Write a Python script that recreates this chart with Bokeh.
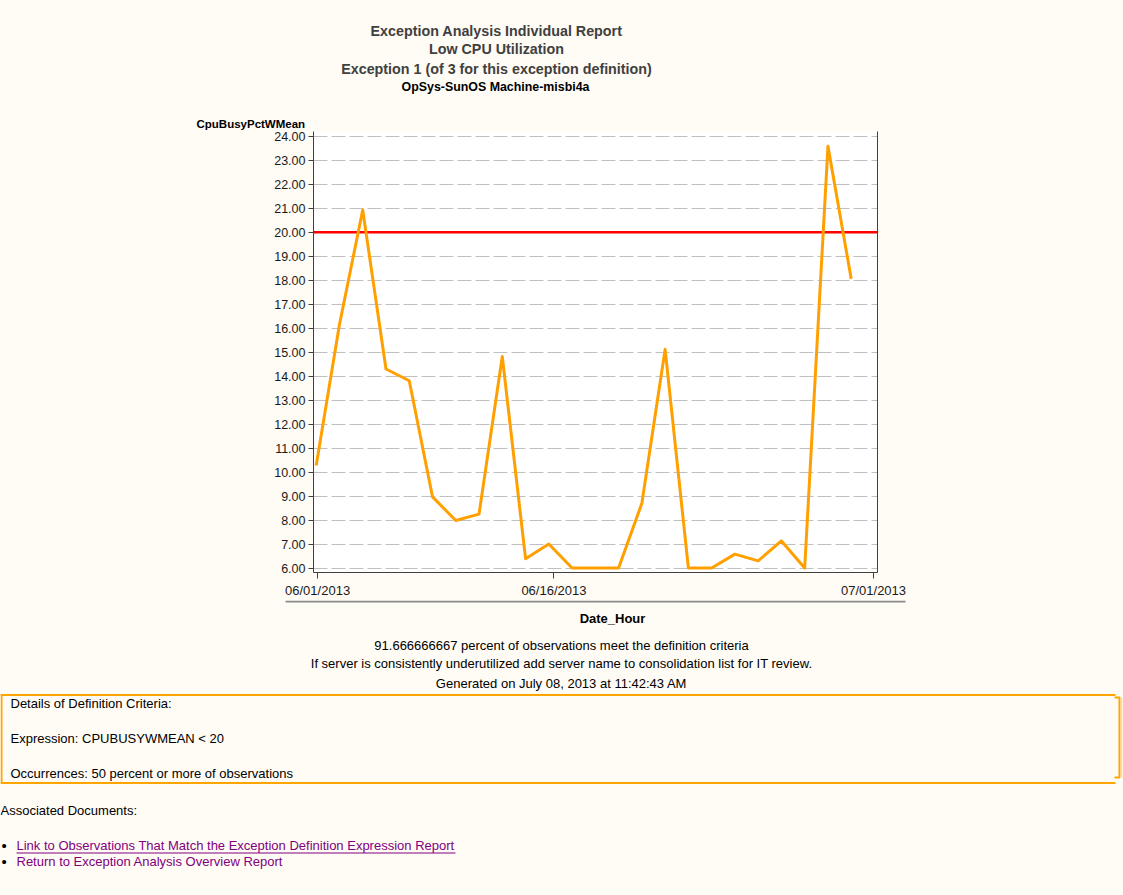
from bokeh.plotting import figure
from bokeh.layouts import column
from bokeh.models import Range1d, LinearAxis, FixedTicker, NumeralTickFormatter, Span
from bokeh.core.properties import value
from bokeh.embed import file_html
from bokeh.resources import INLINE

# ---------------- data ----------------
obs_index = list(range(24))
cpu_busy_pct = [10.28, 16.16, 20.93, 14.30, 13.81, 8.97, 7.98, 8.25, 14.82, 6.39,
                7.00, 6.00, 6.00, 6.00, 8.70, 15.12, 6.00, 6.00, 6.58, 6.30,
                7.13, 6.00, 23.59, 18.06]
threshold = 20
x_tick_positions = [0.06, 10.22, 23.96]
x_tick_labels = ["06/01/2013", "06/16/2013", "07/01/2013"]
y_ticks = list(range(6, 25))

title_lines = ["Exception Analysis Individual Report",
               "Low CPU Utilization",
               "Exception 1 (of 3 for this exception definition)"]
subtitle = "OpSys-SunOS Machine-misbi4a"
y_title = "CpuBusyPctWMean"
x_title = "Date_Hour"
footer_lines = ["91.666666667 percent of observations meet the definition criteria",
                "If server is consistently underutilized add server name to consolidation list for IT review.",
                "Generated on July 08, 2013 at 11:42:43 AM"]
criteria_lines = ["Details of Definition Criteria:",
                  "Expression: CPUBUSYWMEAN < 20",
                  "Occurrences: 50 percent or more of observations"]
assoc_title = "Associated Documents:"
links = ["Link to Observations That Match the Exception Definition Expression Report",
         "Return to Exception Analysis Overview Report"]

# ---------------- styling ----------------
W = 1123
BG = "#fffbf5"
FONT = "Liberation Sans"
ORANGE = "#ffa000"
H_HEAD, H_CHART = 131, 469
H_FOOT = 893 - H_HEAD - H_CHART


def no_align(f):
    try:
        f.frame_align = False
    except Exception:
        pass


def text_panel(h):
    f = figure(width=W, height=h, x_range=Range1d(0, W), y_range=Range1d(h, 0),
               toolbar_location=None, output_backend="svg", min_border=0,
               x_axis_type=None, y_axis_type=None)
    f.outline_line_color = None
    f.background_fill_color = BG
    f.border_fill_color = BG
    no_align(f)
    return f


def put(f, x, y, txt, size="13px", bold=False, color="#000000", align="left"):
    f.text(x=[x], y=[y], text=[txt], text_font=value(FONT), text_font_size=value(size),
           text_font_style="bold" if bold else "normal", text_color=color,
           text_align=align, text_baseline="middle")


# ---------------- header ----------------
head = text_panel(H_HEAD)
for txt, yy in zip(title_lines, [30, 48.5, 68.5]):
    put(head, 496, yy, txt, size="14.3px", bold=True, color="#404040", align="center")
put(head, 495, 86, subtitle, size="12.4px", bold=True, align="center")
put(head, 196, 123, y_title, size="11.5px", bold=True)

# ---------------- chart ----------------
chart = figure(width=W, height=H_CHART,
               x_range=Range1d(-0.116, 24.13), y_range=Range1d(5.814, 24.207),
               toolbar_location=None, output_backend="svg",
               min_border_left=313, min_border_right=W - 877,
               min_border_top=0, min_border_bottom=25)
no_align(chart)
chart.background_fill_color = "#ffffff"
chart.border_fill_color = BG
chart.outline_line_color = None

xa = chart.xaxis[0]
xa.ticker = FixedTicker(ticks=x_tick_positions)
xa.major_label_overrides = dict(zip(x_tick_positions, x_tick_labels))
xa.major_label_text_font = FONT
xa.major_label_text_font_size = "13px"
xa.major_label_text_color = "#1a1a1a"
xa.major_tick_out = 6
xa.major_tick_in = 0
xa.minor_tick_line_color = None
xa.axis_line_color = "#404040"
xa.major_tick_line_color = "#404040"
xa.major_label_standoff = 4

ya = chart.yaxis[0]
ya.ticker = FixedTicker(ticks=y_ticks)
ya.formatter = NumeralTickFormatter(format="0.00")
ya.major_label_text_font = FONT
ya.major_label_text_font_size = "12.5px"
ya.major_label_text_color = "#1a1a1a"
ya.major_tick_out = 5
ya.major_tick_in = 0
ya.minor_tick_line_color = None
ya.axis_line_color = "#404040"
ya.major_tick_line_color = "#404040"
ya.major_label_standoff = 3

ra = LinearAxis(ticker=FixedTicker(ticks=[]), major_label_text_font_size="0px",
                major_tick_line_color=None, minor_tick_line_color=None,
                axis_line_color="#404040")
chart.add_layout(ra, "right")

chart.xgrid.visible = False
chart.ygrid.ticker = FixedTicker(ticks=y_ticks)
chart.ygrid.grid_line_color = "#c0c0c0"
chart.ygrid.grid_line_dash = "14 4"
chart.ygrid.grid_line_width = 1

limit = Span(location=threshold, dimension="width", line_color="#ff0000", line_width=2.5)
limit.level = "underlay"
chart.add_layout(limit)

chart.line(obs_index, cpu_busy_pct, line_color=ORANGE, line_width=3, line_join="round")

# ---------------- footer ----------------
foot = text_panel(H_FOOT)
foot.segment(x0=[285], x1=[905], y0=[1], y1=[1], line_color="#8c8c8c", line_width=2)
put(foot, 612, 18, x_title, size="13px", bold=True, align="center")
for txt, yy in zip(footer_lines, [45, 63, 83]):
    put(foot, 561, yy, txt, size="13px", align="center")

foot.multi_line(xs=[[0, 1115], [0, 1115], [1, 1], [1114, 1119, 1119, 1114]],
                ys=[[94.5, 94.5], [182.5, 182.5], [94.5, 182.5], [97, 97, 177, 177]],
                line_color="#ffa500", line_width=2)
foot.segment(x0=[1121], x1=[1121], y0=[97], y1=[177], line_color="#ffd9a0", line_width=1.5)
for txt, yy in zip(criteria_lines, [103, 138, 173]):
    put(foot, 10, yy, txt, size="13px")

put(foot, 0, 210, assoc_title, size="13px")
for txt, yy in zip(links, [245, 261]):
    put(foot, 1, yy, "\u2022", size="15px")
    put(foot, 16, yy, txt, size="13px", color="#800080")
foot.segment(x0=[16], x1=[455], y0=[252.5], y1=[252.5], line_color="#800080", line_width=1)

page = column(head, chart, foot, spacing=0)
try:
    from bokeh.models import GlobalInlineStyleSheet
    page.stylesheets = [GlobalInlineStyleSheet(css="body { background: #fffbf5; }")]
except Exception:
    pass

open("out.html", "w").write(file_html(page, INLINE))
